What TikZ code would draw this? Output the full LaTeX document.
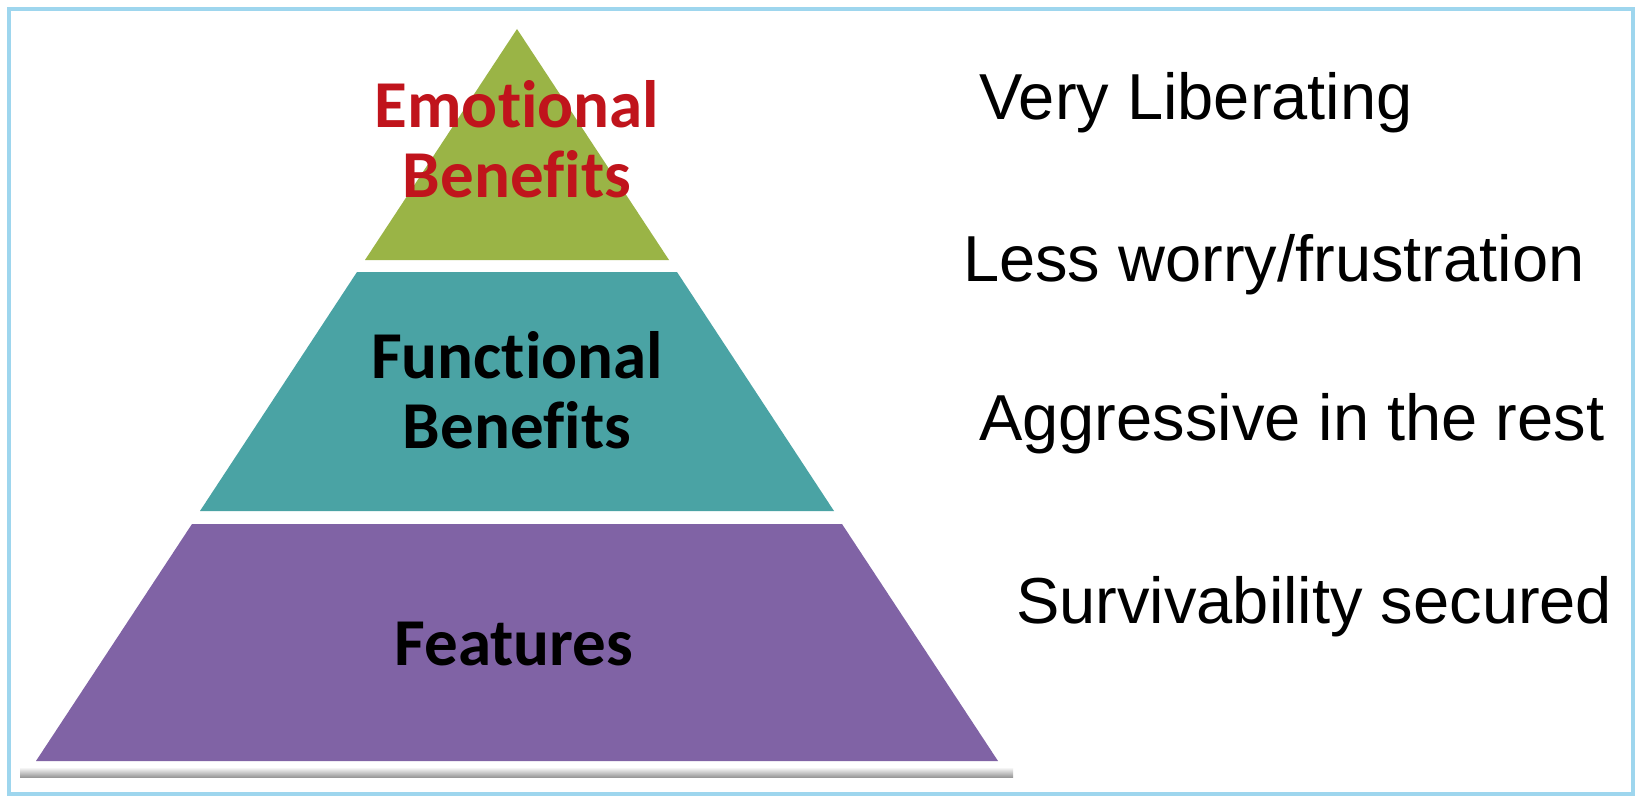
\documentclass[tikz,border=0pt]{standalone}
\usepackage{fontspec}
\setmainfont{Liberation Sans}
\newfontfamily\labelfont[Ligatures={NoCommon,NoRequired,NoContextual}]{Carlito}
\usepackage{tikz}
\usetikzlibrary{positioning, calc}

\definecolor{emoGreen}{HTML}{9AB446}
\definecolor{funTeal}{HTML}{4AA3A4}
\definecolor{featPurple}{HTML}{8063A5}
\definecolor{emoRed}{HTML}{C0141C}
\definecolor{frameBlue}{HTML}{9ED6EE}

\begin{document}
\begin{tikzpicture}[
  x=1pt, y=-1pt,
  layer/.style={draw=none},
  tierlbl/.style={font=\labelfont\bfseries\fontsize{67}{70}\selectfont, align=center,
    inner sep=0pt, anchor=base},
  desc/.style={font=\fontsize{65}{78}\selectfont, inner sep=0pt, anchor=base west},
]
\useasboundingbox (0,0) rectangle (1642,797);

% Outer frame
\fill[white] (0,0) rectangle (1642,797);
\draw[frameBlue, line width=3.5pt] (9,9) rectangle (1633,794);

% Shadow under the base
\shade[top color=white, bottom color=black!40] (20,767) rectangle (1013,777);

% Pyramid layers
\fill[layer, emoGreen] (517,29) -- (669,260) -- (365,260) -- cycle;
\fill[layer, funTeal] (357,272) -- (677,272) -- (834,511) -- (200,511) -- cycle;
\fill[layer, featPurple] (192,524) -- (842,524) -- (998,761) -- (36,761) -- cycle;

% Tier labels (base = last line)
\node[tierlbl, text=emoRed] (emo) at (517,197) {Emotional\\Benefits};
\node[tierlbl, text=black] (fun) at (517,448) {Functional\\Benefits};
\node[tierlbl, text=black] (feat) at (514,665) {Features};

% Descriptions
\node[desc] (very) at (979,120) {Very Liberating};
\node[desc] (less) at (963,281) {Less worry/frustration};
\node[desc] (aggr) at (979,440) {Aggressive in the rest};
\node[desc] (surv) at (1016,623) {Survivability secured};

\end{tikzpicture}
\end{document}
